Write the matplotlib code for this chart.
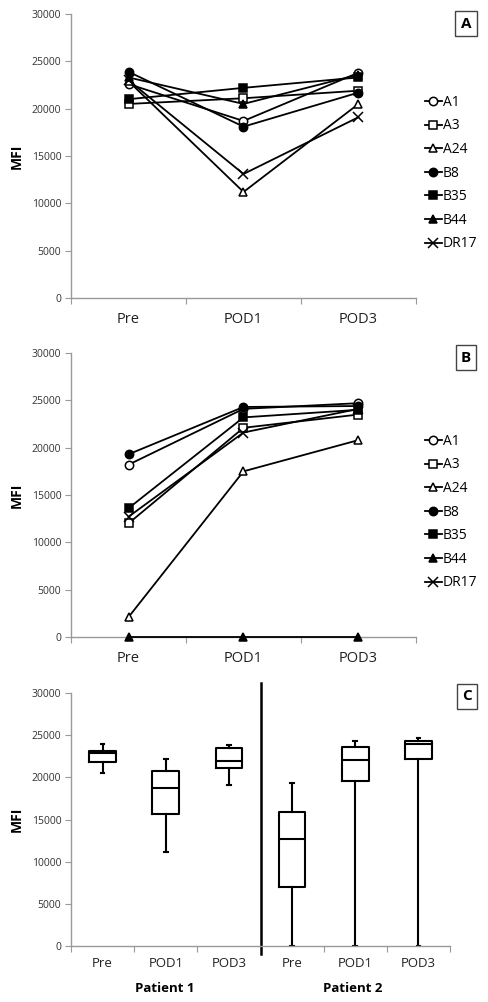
import matplotlib

matplotlib.use("Agg")
import matplotlib.pyplot as plt
import numpy as np

plt.rcParams["font.family"] = ["Open Sans", "DejaVu Sans"]

timepoints = ["Pre", "POD1", "POD3"]
alleles = ["A1", "A3", "A24", "B8", "B35", "B44", "DR17"]

# MFI per allele at Pre, POD1, POD3 (patient 1 -> panel A)
p1_A1 = [22600, 18700, 23800]
p1_A3 = [20500, 21100, 21900]
p1_A24 = [22900, 11200, 20500]
p1_B8 = [23900, 18100, 21700]
p1_B35 = [21000, 22200, 23300]
p1_B44 = [23300, 20500, 23600]
p1_DR17 = [23000, 13100, 19100]

# patient 2 -> panel B
p2_A1 = [18200, 24100, 24700]
p2_A3 = [12000, 22100, 23500]
p2_A24 = [2100, 17500, 20800]
p2_B8 = [19300, 24300, 24400]
p2_B35 = [13600, 23200, 24000]
p2_B44 = [0, 0, 0]
p2_DR17 = [12700, 21600, 24100]

patient1 = [p1_A1, p1_A3, p1_A24, p1_B8, p1_B35, p1_B44, p1_DR17]
patient2 = [p2_A1, p2_A3, p2_A24, p2_B8, p2_B35, p2_B44, p2_DR17]

# marker style for each allele: (marker, filled)
marker_styles = [("o", False), ("s", False), ("^", False), ("o", True),
                 ("s", True), ("^", True), ("x", True)]

W, H = 489, 1002
TICK_COLOR = "#333333"


def px_axes(fig, left, top, right, bottom):
    return fig.add_axes([left / W, 1 - bottom / H, (right - left) / W, (bottom - top) / H])


def style_axes(ax, n):
    for side in ["top", "right"]:
        ax.spines[side].set_visible(False)
    for side in ["left", "bottom"]:
        ax.spines[side].set_color("#999999")
        ax.spines[side].set_linewidth(1.0)
    ax.set_ylim(0, 30000)
    ax.set_yticks(np.arange(0, 30001, 5000))
    ax.set_xlim(0, n)
    ax.set_xticks(np.arange(0, n + 1))
    ax.set_xticklabels([])
    ax.tick_params(axis="y", labelsize=7.5, colors="#999999", labelcolor=TICK_COLOR,
                   length=4, direction="out", pad=3)
    ax.tick_params(axis="x", which="major", colors="#999999", length=4, direction="out")
    ax.set_xticks(np.arange(n) + 0.5, minor=True)
    ax.tick_params(axis="x", which="minor", length=0, labelsize=10.5,
                   labelcolor="#222222", pad=10)
    ax.set_ylabel("MFI", fontsize=10, fontweight="bold", labelpad=6)


def panel_label(fig, text, left, top, right, bottom):
    fig.text((left + right) / 2 / W, 1 - (top + bottom) / 2 / H, text,
             ha="center", va="center", fontsize=11, fontweight="bold",
             bbox=dict(boxstyle="square,pad=0.35", facecolor="white",
                       edgecolor="#444444", linewidth=1.0))


def line_panel(fig, data, top, bottom, label, label_top):
    ax = px_axes(fig, 71, top, 416, bottom)
    x = np.arange(len(timepoints)) + 0.5
    for name, values, (mk, filled) in zip(alleles, data, marker_styles):
        ax.plot(x, values, color="black", linewidth=1.3, marker=mk,
                markersize=6 if mk != "x" else 6.5,
                markerfacecolor="black" if filled else "white",
                markeredgecolor="black", markeredgewidth=1.1, label=name,
                clip_on=False, zorder=3)
    style_axes(ax, len(timepoints))
    ax.set_xticklabels(timepoints, minor=True)
    ax.legend(loc="upper left", bbox_to_anchor=(1.01, 0.735), frameon=False,
              handlelength=1.2, handletextpad=0.1, labelspacing=0.62,
              fontsize=10, borderaxespad=0)
    panel_label(fig, label, 453, label_top, 479, label_top + 27)
    return ax


fig = plt.figure(figsize=(W / 100, H / 100), dpi=100)

line_panel(fig, patient1, 14, 298, "A", 10)
line_panel(fig, patient2, 353, 637, "B", 344)

# panel C: box plots of the allele MFIs per time point
axc = px_axes(fig, 71, 693, 450, 946)
box_data = [np.array([v[i] for v in patient1]) for i in range(3)] + \
           [np.array([v[i] for v in patient2]) for i in range(3)]
axc.boxplot(box_data, positions=np.arange(6) + 0.5, widths=0.42, whis=(0, 100),
            showfliers=False, capwidths=0.06,
            boxprops=dict(color="black", linewidth=1.5),
            medianprops=dict(color="black", linewidth=1.5),
            whiskerprops=dict(color="black", linewidth=1.5),
            capprops=dict(color="black", linewidth=1.5),
            manage_ticks=False)
style_axes(axc, 6)
axc.set_xticklabels(timepoints * 2, minor=True)
axc.tick_params(axis="x", which="minor", labelsize=9.5, pad=8)
axc.axvline(3, ymin=-0.03, ymax=1.04, color="black", linewidth=1.8, clip_on=False)
fig.text(165 / W, 1 - 988 / H, "Patient 1", ha="center", va="center",
         fontsize=9.5, fontweight="bold")
fig.text(353 / W, 1 - 988 / H, "Patient 2", ha="center", va="center",
         fontsize=9.5, fontweight="bold")
panel_label(fig, "C", 454, 682, 480, 711)

fig.savefig("out.png", dpi=100)
